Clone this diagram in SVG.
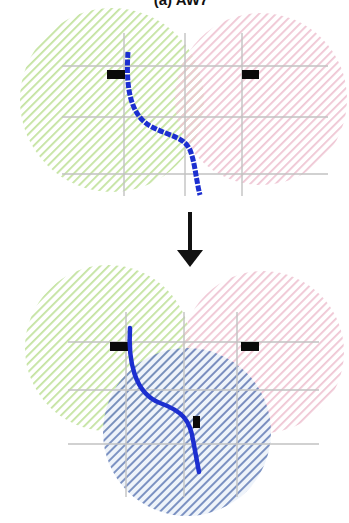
<svg xmlns="http://www.w3.org/2000/svg" width="349" height="523" viewBox="0 0 349 523">
<defs>
<pattern id="hg" width="6" height="6" patternUnits="userSpaceOnUse" patternTransform="rotate(45)"><rect width="1.8" height="6" fill="#c4e3a0"/></pattern>
<pattern id="hp" width="6" height="6" patternUnits="userSpaceOnUse" patternTransform="rotate(45)"><rect width="1.8" height="6" fill="#efc6d4"/></pattern>
<pattern id="hb" width="6" height="6" patternUnits="userSpaceOnUse" patternTransform="rotate(45)"><rect width="6" height="6" fill="#eef3fa"/><rect width="2" height="6" fill="#7189bd"/></pattern>
</defs>
<style>
.grid{stroke:#c2c2c2;stroke-width:1.4;fill:none}
.blk{fill:#0a0a0a}
.cap{font-family:"Liberation Sans",Arial,sans-serif;font-size:15px;font-weight:bold;fill:#111}
</style>
<rect width="349" height="523" fill="#ffffff"/>
<text class="cap" x="181" y="5" text-anchor="middle">(a) AW7</text>
<g id="top-green"><circle cx="112" cy="100" r="92" fill="url(#hg)"/></g>
<g id="top-pink"><circle cx="261" cy="99" r="86" fill="url(#hp)"/></g>
<g id="top-grid" class="grid">
<path d="M62,66 H328 M62,117 H328 M62,174 H328 M124,33 V196 M185,33 V196 M242,33 V196"/>
</g>
<g id="top-rects"><rect class="blk" x="107" y="70" width="18" height="9"/><rect class="blk" x="242" y="70" width="17" height="9"/></g>
<g id="top-curve"><path d="M128,52 C126,82 128,115 152,127 C172,137 184,137 190,150 C195,162 196,180 200,195" fill="none" stroke="#1c2fd0" stroke-width="5" stroke-dasharray="6 1.5"/></g>
<g id="connectors"><line x1="190" y1="212" x2="190" y2="252" stroke="#111" stroke-width="4"/><polygon points="177,250 203,250 190,267" fill="#111"/></g>
<g id="bot-green"><circle cx="108" cy="348" r="83" fill="url(#hg)"/></g>
<g id="bot-pink"><circle cx="263" cy="352" r="81" fill="url(#hp)"/></g>
<g id="bot-blue"><circle cx="187" cy="432" r="84" fill="url(#hb)" opacity="0.92"/></g>
<g id="bot-grid" class="grid">
<path d="M68,342 H319 M68,390 H319 M68,444 H319 M126,312 V497 M184,312 V497 M237,312 V497"/>
</g>
<g id="bot-rects"><rect class="blk" x="110" y="342" width="18" height="9"/><rect class="blk" x="241" y="342" width="18" height="9"/><rect class="blk" x="193" y="416" width="7" height="12"/></g>
<g id="bot-curve"><path d="M130,328 C128,360 134,393 160,403 C182,411 190,420 193,440 L199,472" fill="none" stroke="#1c2fd0" stroke-width="4.5" stroke-linecap="round"/></g>
</svg>
